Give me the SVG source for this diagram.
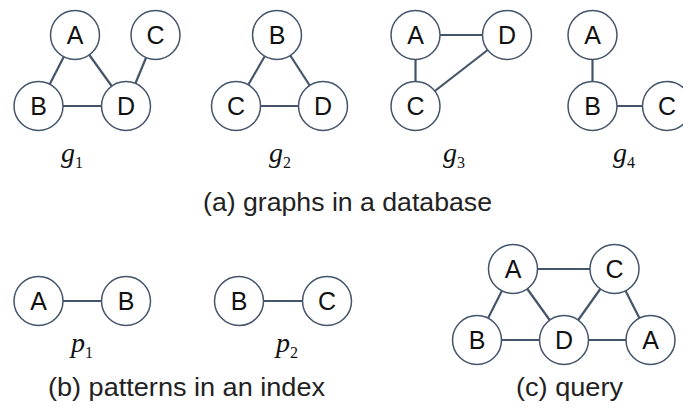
<svg xmlns="http://www.w3.org/2000/svg" width="683" height="409" viewBox="0 0 683 409">
<style>
.n circle{fill:#fff;stroke:#44546A;stroke-width:1.5}
.n text{font-family:"Liberation Sans",Arial,sans-serif;font-size:25px;fill:#111;text-anchor:middle}
#edges line{stroke:#44546A;stroke-width:2.2}
.lbl{font-family:"Liberation Serif","Times New Roman",serif;font-style:italic;font-size:28px;fill:#111}
.sub{font-style:normal;font-size:16px}
.cap{font-family:"Liberation Sans",Arial,sans-serif;font-size:25px;fill:#222}
</style>
<rect width="683" height="409" fill="#fff"/>
<g id="edges">
<line x1="75" y1="35" x2="38.5" y2="106"/>
<line x1="75" y1="35" x2="126" y2="106"/>
<line x1="38.5" y1="106" x2="126" y2="106"/>
<line x1="155.5" y1="35" x2="126" y2="106"/>
<line x1="277" y1="35" x2="236" y2="106"/>
<line x1="277" y1="35" x2="323" y2="106"/>
<line x1="236" y1="106" x2="323" y2="106"/>
<line x1="415.5" y1="35" x2="507" y2="35"/>
<line x1="415.5" y1="35" x2="415.5" y2="106"/>
<line x1="415.5" y1="106" x2="507" y2="35"/>
<line x1="592.5" y1="35" x2="592.5" y2="106"/>
<line x1="592.5" y1="106" x2="667" y2="106"/>
<line x1="38.5" y1="301" x2="126" y2="301"/>
<line x1="239" y1="301" x2="327" y2="301"/>
<line x1="513" y1="269" x2="614.5" y2="269"/>
<line x1="513" y1="269" x2="477" y2="340"/>
<line x1="513" y1="269" x2="564" y2="340"/>
<line x1="614.5" y1="269" x2="564" y2="340"/>
<line x1="614.5" y1="269" x2="650.5" y2="340"/>
<line x1="477" y1="340" x2="564" y2="340"/>
<line x1="564" y1="340" x2="650.5" y2="340"/>
</g>
<g id="g1A" class="n"><circle cx="75" cy="35" r="24.5"/><text x="75" y="43.5">A</text></g>
<g id="g1C" class="n"><circle cx="155.5" cy="35" r="24.5"/><text x="155.5" y="43.5">C</text></g>
<g id="g1B" class="n"><circle cx="38.5" cy="106" r="24.5"/><text x="38.5" y="114.5">B</text></g>
<g id="g1D" class="n"><circle cx="126" cy="106" r="24.5"/><text x="126" y="114.5">D</text></g>
<g id="g2B" class="n"><circle cx="277" cy="35" r="24.5"/><text x="277" y="43.5">B</text></g>
<g id="g2C" class="n"><circle cx="236" cy="106" r="24.5"/><text x="236" y="114.5">C</text></g>
<g id="g2D" class="n"><circle cx="323" cy="106" r="24.5"/><text x="323" y="114.5">D</text></g>
<g id="g3A" class="n"><circle cx="415.5" cy="35" r="24.5"/><text x="415.5" y="43.5">A</text></g>
<g id="g3D" class="n"><circle cx="507" cy="35" r="24.5"/><text x="507" y="43.5">D</text></g>
<g id="g3C" class="n"><circle cx="415.5" cy="106" r="24.5"/><text x="415.5" y="114.5">C</text></g>
<g id="g4A" class="n"><circle cx="592.5" cy="35" r="24.5"/><text x="592.5" y="43.5">A</text></g>
<g id="g4B" class="n"><circle cx="592.5" cy="106" r="24.5"/><text x="592.5" y="114.5">B</text></g>
<g id="g4C" class="n"><circle cx="667" cy="106" r="24.5"/><text x="667" y="114.5">C</text></g>
<g id="p1A" class="n"><circle cx="38.5" cy="301" r="24.5"/><text x="38.5" y="309.5">A</text></g>
<g id="p1B" class="n"><circle cx="126" cy="301" r="24.5"/><text x="126" y="309.5">B</text></g>
<g id="p2B" class="n"><circle cx="239" cy="301" r="24.5"/><text x="239" y="309.5">B</text></g>
<g id="p2C" class="n"><circle cx="327" cy="301" r="24.5"/><text x="327" y="309.5">C</text></g>
<g id="qA1" class="n"><circle cx="513" cy="269" r="24.5"/><text x="513" y="277.5">A</text></g>
<g id="qC" class="n"><circle cx="614.5" cy="269" r="24.5"/><text x="614.5" y="277.5">C</text></g>
<g id="qB" class="n"><circle cx="477" cy="340" r="24.5"/><text x="477" y="348.5">B</text></g>
<g id="qD" class="n"><circle cx="564" cy="340" r="24.5"/><text x="564" y="348.5">D</text></g>
<g id="qA2" class="n"><circle cx="650.5" cy="340" r="24.5"/><text x="650.5" y="348.5">A</text></g>
<text class="lbl" x="61" y="162">g<tspan class="sub" dy="6">1</tspan></text>
<text class="lbl" x="269" y="162">g<tspan class="sub" dy="6">2</tspan></text>
<text class="lbl" x="443" y="162">g<tspan class="sub" dy="6">3</tspan></text>
<text class="lbl" x="613" y="162">g<tspan class="sub" dy="6">4</tspan></text>
<text class="lbl" x="71" y="352">p<tspan class="sub" dy="6">1</tspan></text>
<text class="lbl" x="276" y="352">p<tspan class="sub" dy="6">2</tspan></text>
<text class="cap" x="203" y="211" textLength="289" lengthAdjust="spacingAndGlyphs">(a) graphs in a database</text>
<text class="cap" x="48" y="396" textLength="277" lengthAdjust="spacingAndGlyphs">(b) patterns in an index</text>
<text class="cap" x="516" y="396" textLength="107" lengthAdjust="spacingAndGlyphs">(c) query</text>
</svg>
